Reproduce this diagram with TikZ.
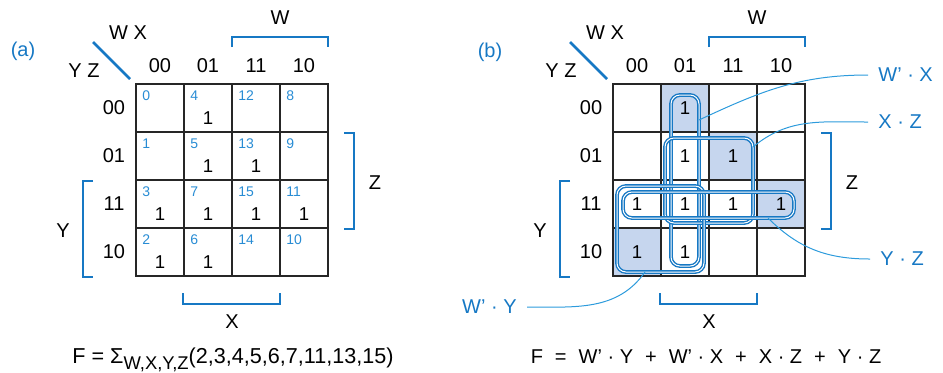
\documentclass[tikz,border=0pt]{standalone}
\usepackage{fontspec}
\setmainfont{Liberation Sans}
\usetikzlibrary{positioning, calc}

\definecolor{mapblue}{RGB}{22,120,196}
\definecolor{idxblue}{RGB}{40,140,212}
\definecolor{lineblue}{RGB}{45,155,220}
\definecolor{cellfill}{RGB}{198,214,238}
\definecolor{gridgray}{RGB}{38,38,38}

\begin{document}
\begin{tikzpicture}[
    x=0.5pt, y=-0.5pt,
    cell/.style={rectangle, draw=gridgray, line width=1pt, minimum size=24pt, inner sep=0pt},
    lbl/.style={font=\fontsize{10}{12}\selectfont, inner sep=0pt},
    one/.style={font=\fontsize{9.3}{11}\selectfont, inner sep=0pt},
    idx/.style={font=\fontsize{7}{8}\selectfont, text=idxblue, anchor=west, inner sep=0pt},
    tag/.style={font=\fontsize{10}{12}\selectfont, text=mapblue, inner sep=0pt},
    calltag/.style={font=\fontsize{10}{12}\selectfont, text=mapblue, inner sep=5pt},
    bracket/.style={draw=mapblue, line width=1.35pt},
    loopline/.style={draw=mapblue, line width=0.7pt, double=white, double distance=0.5pt, rounded corners=4.5pt},
    callout/.style={draw=lineblue, line width=0.5pt},
]

\useasboundingbox (0,0) rectangle (943,372);

% Map tags
\node[tag] (tagA) at (23,51) {(a)};
\node[tag] (tagB) at (490,52) {(b)};

% Both maps: cells, headings, brackets
\foreach \m/\dx in {a/0, b/477} {
  \foreach \c in {0,...,3}
    \foreach \r in {0,...,3}
      \node[cell] (\m-\c-\r) at ({160+\dx+48*\c},{108+48*\r}) {};
  \node[lbl] (\m-wx) at ({128+\dx},33) {W X};
  \node[lbl] (\m-yz) at ({84+\dx},71) {Y Z};
  \draw[bracket] ({93+\dx},42) -- ({130+\dx},79);
  \foreach \c/\t in {0/00, 1/01, 2/11, 3/10} {
    \node[lbl] (\m-col\c) at ({160+\dx+48*\c},66) {\t};
    \node[lbl] (\m-row\c) at ({114+\dx},{108+48*\c}) {\t};
  }
  % W bracket
  \draw[bracket] ({232+\dx},47) -- ({232+\dx},37) -- ({328+\dx},37) -- ({328+\dx},47);
  \node[lbl] (\m-w) at ({280+\dx},18) {W};
  % Z bracket
  \draw[bracket] ({344+\dx},133) -- ({354+\dx},133) -- ({354+\dx},229) -- ({344+\dx},229);
  \node[lbl] (\m-z) at ({375+\dx},183) {Z};
  % Y bracket
  \draw[bracket] ({93+\dx},181) -- ({83+\dx},181) -- ({83+\dx},277) -- ({93+\dx},277);
  \node[lbl] (\m-y) at ({63+\dx},231) {Y};
  % X bracket
  \draw[bracket] ({183+\dx},293) -- ({183+\dx},304) -- ({280+\dx},304) -- ({280+\dx},293);
  \node[lbl] (\m-x) at ({232+\dx},322) {X};
}

% (a): minterm numbers and ones
\foreach \c/\r/\n in {0/0/0, 1/0/4, 2/0/12, 3/0/8, 0/1/1, 1/1/5, 2/1/13, 3/1/9,
                      0/2/3, 1/2/7, 2/2/15, 3/2/11, 0/3/2, 1/3/6, 2/3/14, 3/3/10}
  \node[idx] (n\n) at ([xshift=3.5pt, yshift=-6.5pt]a-\c-\r.north west) {\n};
\foreach \c/\r in {1/0, 1/1, 2/1, 0/2, 1/2, 2/2, 3/2, 0/3, 1/3}
  \node[one] (a1-\c-\r) at ([yshift=-5pt]a-\c-\r.center) {1};

% (b): shaded cells, ones, groups
\foreach \c/\r in {1/0, 2/1, 3/2, 0/3}
  \node[cell, fill=cellfill] (s-\c-\r) at (b-\c-\r) {};
\foreach \c/\r in {1/0, 1/1, 2/1, 0/2, 1/2, 2/2, 3/2, 0/3, 1/3}
  \node[one] (b1-\c-\r) at (b-\c-\r) {1};

\draw[loopline] (671,95) rectangle (699,266);   % W'X
\draw[loopline] (665,138) rectangle (753,223);  % XZ
\draw[loopline] (617,186) rectangle (704,272);  % W'Y
\draw[loopline] (623,192) rectangle (794,218);  % YZ

% Callouts
\coordinate (wxtip) at (699,120);
\coordinate (xztip) at (753,147);
\coordinate (yztip) at (768,218);
\coordinate (wytip) at (645,272);
\node[calltag, anchor=west] (wxlbl) at (868,75) {W’ · X};
\node[calltag, anchor=west] (xzlbl) at (868,122) {X · Z};
\node[calltag, anchor=west] (yzlbl) at (870,259) {Y · Z};
\node[calltag, anchor=east] (wylbl) at (527,307) {W’ · Y};
\draw[callout] (wxtip) to[out=25, in=180] (wxlbl.west);
\draw[callout] (xztip) to[out=40, in=180] (xzlbl.west);
\draw[callout] (yztip) to[out=-45, in=180] (yzlbl.west);
\draw[callout] (wytip) to[out=-125, in=0] (wylbl.east);

% Functions
\node[lbl, anchor=base, font=\fontsize{10.8}{12}\selectfont] (fa) at (233,363)
  {F = Σ\raisebox{-3pt}{\fontsize{9.2}{10}\selectfont W,X,Y,Z}(2,3,4,5,6,7,11,13,15)};
\node[lbl, anchor=base] (fb) at (706,363)
  {F\hspace{6pt}=\hspace{6pt}W’ · Y\hspace{6pt}+\hspace{6pt}W’ · X\hspace{6pt}+\hspace{6pt}X · Z\hspace{6pt}+\hspace{6pt}Y · Z};

\end{tikzpicture}
\end{document}
